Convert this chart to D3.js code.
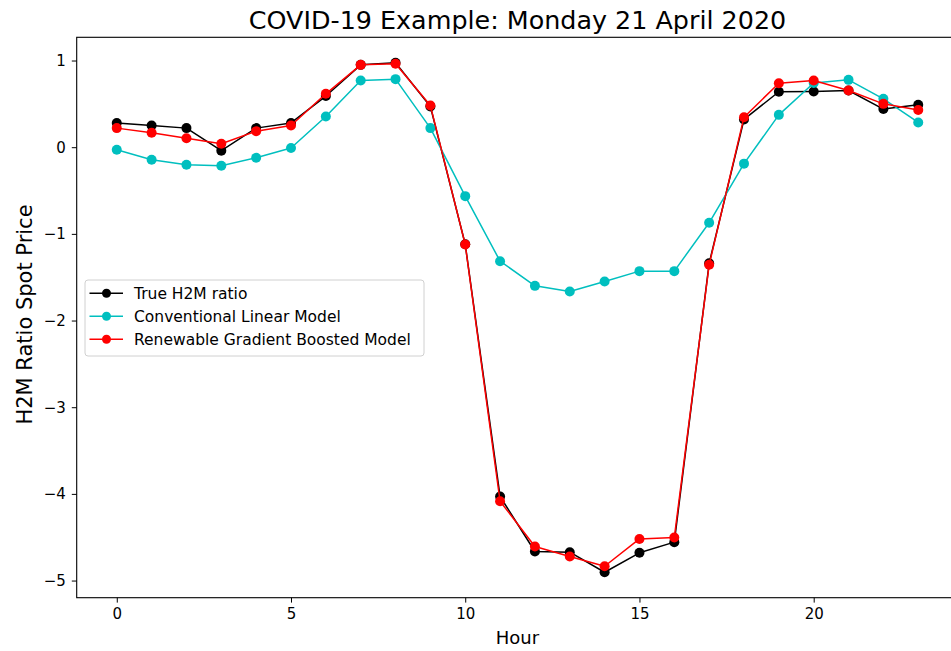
<!DOCTYPE html>
<html>
<head>
<meta charset="utf-8">
<script src="https://cdn.jsdelivr.net/npm/d3@7"></script>
<style>
  html, body { margin: 0; padding: 0; background: #fff; }
  svg { display: block; font-family: "DejaVu Sans", sans-serif; }
</style>
</head>
<body>
<svg id="chart" width="951" height="651"></svg>
<script>
const hours = d3.range(0, 24);
const trueH2M = [0.28, 0.25, 0.22, -0.04, 0.22, 0.28, 0.59, 0.95, 0.974, 0.47,
  -1.12, -4.03, -4.665, -4.673, -4.904, -4.68, -4.557, -1.34,
  0.32, 0.64, 0.643, 0.654, 0.44, 0.49];
const linearModel = [-0.03, -0.145, -0.203, -0.215, -0.122, -0.01, 0.354, 0.77, 0.785, 0.22,
  -0.565, -1.315, -1.60, -1.665, -1.55, -1.43, -1.43, -0.872,
  -0.19, 0.373, 0.74, 0.777, 0.558, 0.285];
const boostedModel = [0.22, 0.166, 0.104, 0.04, 0.185, 0.25, 0.616, 0.95, 0.962, 0.48,
  -1.123, -4.085, -4.607, -4.723, -4.835, -4.52, -4.503, -1.357,
  0.346, 0.738, 0.77, 0.654, 0.50, 0.43];
const seriesNames = ["True H2M ratio", "Conventional Linear Model", "Renewable Gradient Boosted Model"];
const seriesColors = ["#000000", "#00bfbf", "#ff0000"];
const xTicks = [0, 5, 10, 15, 20];
const yTicks = [1, 0, -1, -2, -3, -4, -5];
const titleText = "COVID-19 Example: Monday 21 April 2020";
const xLabel = "Hour";
const yLabel = "H2M Ratio Spot Price";

const series = [trueH2M, linearModel, boostedModel];

const svg = d3.select("#chart");
const L = 76.7, R = 958.3, T = 37.3, B = 597.7;

const xMin = d3.min(hours), xMax = d3.max(hours);
const xPad = (xMax - xMin) * 0.05;
const allVals = series.flat();
const yMin = d3.min(allVals), yMax = d3.max(allVals);
const yPad = (yMax - yMin) * 0.05;

const x = d3.scaleLinear().domain([xMin - xPad, xMax + xPad]).range([L, R]);
const y = d3.scaleLinear().domain([yMin - yPad, yMax + yPad]).range([B, T]);

const fmt = d => String(d).replace("-", "\u2212");

// axes
const xAxis = d3.axisBottom(x).tickValues(xTicks).tickSize(4.9).tickPadding(6).tickFormat(fmt);
const yAxis = d3.axisLeft(y).tickValues(yTicks).tickSize(4.9).tickPadding(6).tickFormat(fmt);

const gx = svg.append("g").attr("transform", `translate(0,${B})`).call(xAxis);
const gy = svg.append("g").attr("transform", `translate(${L},0)`).call(yAxis);
[gx, gy].forEach(g => {
  g.select(".domain").remove();
  g.selectAll(".tick line").attr("stroke", "#000").attr("stroke-width", 1);
  g.selectAll(".tick text").attr("fill", "#000").style("font-size", "15px").style("font-family", "DejaVu Sans");
});

// frame (spines)
svg.append("rect").attr("x", L).attr("y", T).attr("width", R - L).attr("height", B - T)
  .attr("fill", "none").attr("stroke", "#000").attr("stroke-width", 1.1);

// lines + markers
const line = d3.line().x((d, i) => x(hours[i])).y(d => y(d));
series.forEach((vals, si) => {
  const g = svg.append("g");
  g.append("path").datum(vals).attr("d", line).attr("fill", "none")
    .attr("stroke", seriesColors[si]).attr("stroke-width", 1.5).attr("stroke-linejoin", "round");
  g.selectAll("circle").data(vals).join("circle")
    .attr("cx", (d, i) => x(hours[i])).attr("cy", d => y(d)).attr("r", 5)
    .attr("fill", seriesColors[si]);
});

// title and labels
svg.append("text").attr("x", (L + R) / 2).attr("y", 29).attr("text-anchor", "middle")
  .style("font-size", "25.4px").attr("fill", "#000").text(titleText);
svg.append("text").attr("x", (L + R) / 2).attr("y", 644).attr("text-anchor", "middle")
  .style("font-size", "18px").attr("fill", "#000").text(xLabel);
svg.append("text").attr("transform", `translate(32,${(T + B) / 2 - 3}) rotate(-90)`)
  .attr("text-anchor", "middle").style("font-size", "21px").attr("fill", "#000").text(yLabel);

// legend
const lg = svg.append("g");
lg.append("rect").attr("x", 85).attr("y", 280).attr("width", 339).attr("height", 76)
  .attr("rx", 3).attr("fill", "#fff").attr("fill-opacity", 0.8).attr("stroke", "#d0d0d0").attr("stroke-width", 1);
const rowY = [293.3, 316.3, 339.3];
seriesNames.forEach((name, i) => {
  lg.append("line").attr("x1", 89.5).attr("x2", 123).attr("y1", rowY[i]).attr("y2", rowY[i])
    .attr("stroke", seriesColors[i]).attr("stroke-width", 1.5);
  lg.append("circle").attr("cx", 106.5).attr("cy", rowY[i]).attr("r", 4.5).attr("fill", seriesColors[i]);
  lg.append("text").attr("x", 134).attr("y", rowY[i]).attr("dy", "0.36em")
    .style("font-size", "15.5px").attr("fill", "#000").text(name);
});
</script>
</body>
</html>
